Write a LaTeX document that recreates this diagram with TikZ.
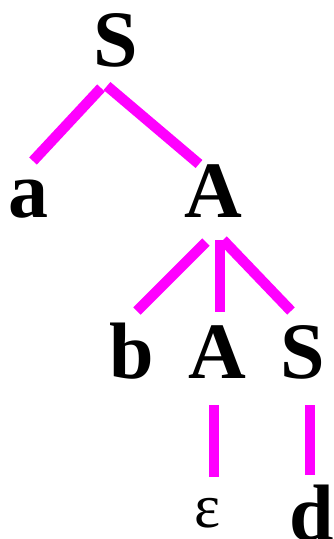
\documentclass[tikz,border=0pt]{standalone}
\usepackage{fontspec}
\setmainfont{Liberation Serif}
\definecolor{linemag}{RGB}{255,0,255}
\begin{document}
\begin{tikzpicture}[x=1pt,y=-1pt,
  sym/.style={font=\bfseries\fontsize{80}{80}\selectfont, inner sep=0pt, anchor=base},
  eps/.style={font=\fontsize{62}{62}\selectfont, inner sep=0pt, anchor=base},
  edge/.style={draw=linemag, line width=10.5pt}]
\useasboundingbox (0,0) rectangle (334,539);
% nodes
\node[sym] (S1) at (116,66) {S};
\node[sym] (a) at (29,217) {a};
\node[sym] (A1) at (213,217) {A};
\node[sym] (b) at (132,378) {b};
\node[sym] (A2) at (217,378) {A};
\node[sym] (S2) at (303,378) {S};
\node[eps] (e) at (208,527) {ε};
\node[sym] (d) at (312,540) {d};
% connector ends
\coordinate (S1l) at (101,88);  \coordinate (al) at (33,161);
\coordinate (S1r) at (107,86);  \coordinate (A1t) at (199,164);
\coordinate (A1l) at (206,242); \coordinate (bt) at (137,311);
\coordinate (A1m) at (220,240); \coordinate (A2t) at (220,312);
\coordinate (A1r) at (223,240); \coordinate (S2t) at (291,311);
\coordinate (A2b) at (214,405); \coordinate (et) at (214,477);
\coordinate (S2b) at (310,405); \coordinate (dt) at (310,475);
\draw[edge] (S1l) -- (al);
\draw[edge] (S1r) -- (A1t);
\draw[edge] (A1l) -- (bt);
\draw[edge] (A1r) -- (S2t);
\draw[edge] (A1m) -- (A2t);
\draw[edge] (A2b) -- (et);
\draw[edge] (S2b) -- (dt);
\end{tikzpicture}
\end{document}
